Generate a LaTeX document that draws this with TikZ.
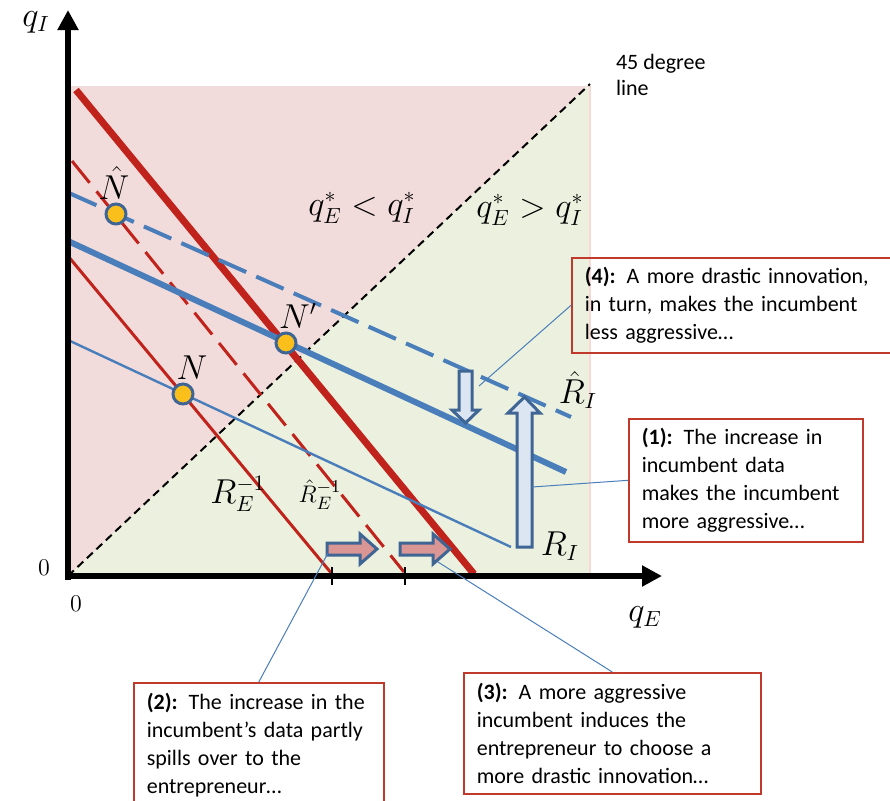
\documentclass[tikz,border=0pt]{standalone}
\usepackage{fontspec}
\newfontfamily\calfont{Carlito}
\usetikzlibrary{arrows.meta,positioning,calc}
\definecolor{bgpink}{HTML}{F2DCDB}
\definecolor{bggreen}{HTML}{EBF1DE}
\definecolor{myred}{HTML}{C0231B}
\definecolor{myblue}{HTML}{4A7EBB}
\definecolor{darkblue}{HTML}{3F6595}
\definecolor{dotyellow}{HTML}{FBBF1B}
\definecolor{arrpink}{HTML}{D99694}
\definecolor{arrblue}{HTML}{DCE6F2}
\definecolor{boxred}{HTML}{C0392B}
\tikzset{
  callout/.style={draw=boxred, line width=0.8pt, align=left, inner xsep=6.5pt, anchor=north west,
                  font=\calfont\fontsize{11}{14}\selectfont},
  lead/.style={draw=myblue, line width=0.5pt},
  axis/.style={line width=3pt, -{Triangle[length=10pt,width=10pt]}},
  eqpoint/.style={circle, draw=darkblue, line width=1.5pt, fill=dotyellow, minimum size=10pt, inner sep=0pt},
  lab/.style={font=\fontsize{16}{18}\selectfont, inner sep=1pt},
  smalllab/.style={font=\fontsize{13}{15}\selectfont, inner sep=1pt},
  blockarr/.style={draw=darkblue, line width=1.5pt, line join=miter},
}
\begin{document}
\begin{tikzpicture}[x=0.5pt, y=-0.5pt]
  \useasboundingbox (0,0) rectangle (890,800);
  % regions
  \coordinate (o) at (68,576);
  \fill[bgpink] (68,86) rectangle (590,576);
  \fill[bggreen] (o) -- (590,84) -- (590,576) -- cycle;
  \draw[bgpink!70!red!40, line width=0.8pt] (590,86) -- (590,576);
  \draw[dash pattern=on 4pt off 2.5pt, line width=1pt] (o) -- (590,84);
  \node[font=\calfont\fontsize{11}{13}\selectfont, align=left, anchor=west] (deg) at (609,75) {45 degree\\line};
  \node[lab] (lt) at (362,208) {$q_E^* < q_I^*$};
  \node[lab] (gt) at (530,210) {$q_E^* > q_I^*$};
  % reaction curves
  \draw[myred, line width=3.5pt] (76,90) -- (474,574);
  \draw[myred, line width=1.5pt] (68,256) -- (332,574);
  \draw[myred, line width=1.5pt, dash pattern=on 14pt off 5.5pt] (72,161) -- (404,572);
  \draw[myblue, line width=3pt] (68,241) -- (566,472);
  \draw[myblue, line width=1.2pt] (68,340) -- (511,547);
  \draw[myblue, line width=2pt, dash pattern=on 15pt off 5.5pt] (69,193) -- (571,417);
  % axes
  \foreach \x in {332,405} \draw[line width=1.2pt] (\x,567) -- (\x,585);
  \draw[axis] (68,580) -- (68,10);
  \draw[axis] (66,576) -- (662,576);
  \node[lab] (qi) at (36,22) {$q_I$};
  \node[lab] (qe) at (645,617) {$q_E$};
  \node[font=\fontsize{12}{14}\selectfont] (zy) at (44,568) {0};
  \node[font=\fontsize{12}{14}\selectfont] (zx) at (76,604) {0};
  % shifts
  \foreach \x in {327,400}
    \draw[blockarr, fill=arrpink] (\x,543) -- ++(33,0) -- ++(0,-9) -- ++(17,15) -- ++(-17,15) -- ++(0,-9) -- ++(-33,0) -- cycle;
  \draw[blockarr, fill=arrblue] (459,371) -- (472,371) -- (472,410) -- (479,410) -- (465.5,423) -- (452,410) -- (459,410) -- cycle;
  \draw[blockarr, fill=arrblue] (517,547) -- (532,547) -- (532,413) -- (540,413) -- (524.5,397) -- (508,413) -- (517,413) -- cycle;
  % equilibria
  \node[eqpoint] (nh) at (116,214) {};
  \node[eqpoint] (np) at (286,343) {};
  \node[eqpoint] (n) at (183,394) {};
  \node[lab] (nhl) at (114,183) {$\hat{N}$};
  \node[lab] (npl) at (298,316) {$N'$};
  \node[lab] (nl) at (192,368) {$N$};
  \node[lab] (re) at (238,494) {$R_E^{-1}$};
  \node[smalllab] (reh) at (320,495) {$\hat{R}_E^{-1}$};
  \node[lab] (ri) at (560,546) {$R_I$};
  \node[lab] (rih) at (578,390) {$\hat{R}_I$};
  % callouts
  \node[callout, text width=146.5pt, minimum height=47.5pt] (c4) at (571,257)
    {\textbf{(4):} A more drastic innovation,\\in turn, makes the incumbent\\less aggressive\dots};
  \node[callout, text width=104pt, minimum height=61.5pt] (c1) at (628,418)
    {\textbf{(1):} The increase in\\incumbent data\\makes the incumbent\\more aggressive\dots};
  \node[callout, text width=112pt, minimum height=62pt] (c2) at (133,682)
    {\textbf{(2):} The increase in the\\incumbent’s data partly\\spills over to the\\entrepreneur\dots};
  \node[callout, text width=135.5pt, minimum height=60.5pt] (c3) at (463,672)
    {\textbf{(3):} A more aggressive\\incumbent induces the\\entrepreneur to choose a\\more drastic innovation\dots};
  \coordinate (t4) at (479,386);
  \coordinate (t1) at (532,487);
  \coordinate (t2) at (328,553);
  \coordinate (t3) at (438,562);
  \draw[lead] (c4.west) -- (t4);
  \draw[lead] (c1.west) -- (t1);
  \draw[lead] (c2.north) -- (t2);
  \draw[lead] (c3.north) -- (t3);
\end{tikzpicture}
\end{document}
